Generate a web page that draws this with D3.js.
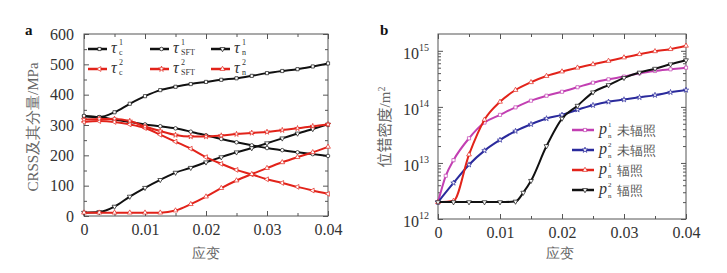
<!DOCTYPE html>
<html>
<head>
<meta charset="utf-8">
<script src="https://cdn.jsdelivr.net/npm/d3@7"></script>
<style>
  body { margin: 0; background: #fff; }
  text { font-family: "Liberation Serif", "DejaVu Serif", serif; }
</style>
</head>
<body>
<svg id="chart" width="727" height="273"></svg>
<script>
// ---- panel a data (strain vs CRSS, MPa) ----
var strainA = [0, 0.0025, 0.005, 0.0075, 0.01, 0.0125, 0.015, 0.0175, 0.02,
               0.0225, 0.025, 0.0275, 0.03, 0.0325, 0.035, 0.0375, 0.04];
var tauC1   = [329, 326, 342, 370, 395, 415, 426, 435, 442, 449, 454, 462, 471, 478, 484, 493, 503];
var tauSFT1 = [330, 326, 318, 310, 302, 296, 289, 278, 266, 254, 243, 233, 224, 217, 210, 204, 198];
var tauN1   = [11, 13, 31, 64, 93, 119, 143, 159, 177, 194, 210, 224, 240, 256, 272, 287, 302];
var tauC2   = [310, 313, 310, 302, 290, 268, 245, 222, 194, 172, 152, 137, 121, 109, 96, 84, 73];
var tauSFT2 = [318, 320, 320, 313, 295, 280, 267, 262, 262, 265, 270, 274, 277, 283, 289, 296, 302];
var tauN2   = [11, 11, 11, 11, 11, 11, 18, 39, 64, 92, 117, 138, 158, 177, 194, 210, 228];
var yTicksA = [0, 100, 200, 300, 400, 500, 600];
var xTicks  = [0, 0.01, 0.02, 0.03, 0.04];

// ---- panel b data (strain vs dislocation density, m^-2) ----
var strainP1 = [0, 0.00125, 0.0025, 0.005, 0.0075, 0.01, 0.0125, 0.015, 0.0175, 0.02,
                0.0225, 0.025, 0.0275, 0.03, 0.0325, 0.035, 0.0375, 0.04];
var rhoP1 = [2.0e12, 5.9e12, 1.12e13, 2.75e13, 5.25e13, 7.2e13, 9.8e13, 1.29e14, 1.58e14, 1.86e14,
             2.24e14, 2.7e14, 3.1e14, 3.47e14, 3.98e14, 4.37e14, 4.68e14, 5.0e14];
var strainP2 = strainA;
var rhoP2 = [2.0e12, 4.4e12, 9.3e12, 1.66e13, 2.57e13, 3.7e13, 4.9e13, 6.2e13, 7.2e13,
             8.9e13, 1.07e14, 1.23e14, 1.35e14, 1.48e14, 1.62e14, 1.82e14, 2.0e14];
var strainR1 = strainA;
var rhoR1 = [2.0e12, 2.1e12, 1.41e13, 5.9e13, 1.23e14, 2.0e14, 2.75e14, 3.55e14, 4.27e14,
             5.0e14, 5.75e14, 6.6e14, 7.6e14, 8.7e14, 9.8e14, 1.07e15, 1.23e15];
var strainR2 = [0, 0.0025, 0.005, 0.0075, 0.01, 0.0125, 0.01375, 0.015, 0.0175, 0.02,
                0.0225, 0.025, 0.0275, 0.03, 0.0325, 0.035, 0.0375, 0.04];
var rhoR2 = [2.0e12, 2.0e12, 2.0e12, 2.0e12, 2.0e12, 2.05e12, 2.95e12, 4.8e12, 2.0e13, 6.2e13,
             1.05e14, 1.82e14, 2.45e14, 3.3e14, 4.1e14, 4.8e14, 5.75e14, 6.8e14];
var yTicksB = [1e12, 1e13, 1e14, 1e15];

var RED = "#e2231a", BLACK = "#111", PINK = "#c23fb2", BLUE = "#2a2a9c";

var seriesA = [
  { ys: tauC1,   color: BLACK, sym: d3.symbolSquare,   rot: 0,   sup: "1", sub: "c" },
  { ys: tauSFT1, color: BLACK, sym: d3.symbolCircle,   rot: 0,   sup: "1", sub: "SFT" },
  { ys: tauN1,   color: BLACK, sym: d3.symbolTriangle, rot: 180, sup: "1", sub: "n" },
  { ys: tauC2,   color: RED,   sym: d3.symbolTriangle, rot: -90, sup: "2", sub: "c" },
  { ys: tauSFT2, color: RED,   sym: d3.symbolStar,     rot: 0,   sup: "2", sub: "SFT" },
  { ys: tauN2,   color: RED,   sym: d3.symbolTriangle, rot: 0,   sup: "2", sub: "n" }
];
var seriesB = [
  { xs: strainP1, ys: rhoP1, color: PINK,  sym: d3.symbolSquare,   rot: 0,   sup: "1", label: "未辐照" },
  { xs: strainP2, ys: rhoP2, color: BLUE,  sym: d3.symbolStar,     rot: 0,   sup: "2", label: "未辐照" },
  { xs: strainR1, ys: rhoR1, color: RED,   sym: d3.symbolTriangle, rot: 0,   sup: "1", label: "辐照" },
  { xs: strainR2, ys: rhoR2, color: BLACK, sym: d3.symbolTriangle, rot: 180, sup: "2", label: "辐照" }
];

var svg = d3.select("#chart");
svg.append("rect").attr("width", 727).attr("height", 273).attr("fill", "#fff");

function drawFrame(g, x, y, major, minorX, minorY, yLabels) {
  var x0 = x.range()[0], x1 = x.range()[1], y0 = y.range()[0], y1 = y.range()[1];
  var axisCol = "#555";
  g.append("g").attr("transform", "translate(0," + y0 + ")")
    .call(d3.axisBottom(x).tickValues(major.x).tickSize(-5).tickPadding(8)
      .tickFormat(function(d) { return d === 0 ? "0" : d3.format(".2f")(d); }));
  g.append("g").attr("transform", "translate(0," + y0 + ")")
    .call(d3.axisBottom(x).tickValues(minorX).tickSize(-3).tickFormat(""));
  g.append("g").attr("transform", "translate(0," + y1 + ")")
    .call(d3.axisTop(x).tickValues(major.x).tickSize(-5).tickFormat(""));
  g.append("g").attr("transform", "translate(0," + y1 + ")")
    .call(d3.axisTop(x).tickValues(minorX).tickSize(-3).tickFormat(""));
  var l = g.append("g").attr("transform", "translate(" + x0 + ",0)")
    .call(d3.axisLeft(y).tickValues(major.y).tickSize(-5).tickPadding(yLabels.pad).tickFormat(yLabels.fmt));
  g.append("g").attr("transform", "translate(" + x0 + ",0)")
    .call(d3.axisLeft(y).tickValues(minorY).tickSize(-3).tickFormat(""));
  g.append("g").attr("transform", "translate(" + x1 + ",0)")
    .call(d3.axisRight(y).tickValues(major.y).tickSize(-5).tickFormat(""));
  g.append("g").attr("transform", "translate(" + x1 + ",0)")
    .call(d3.axisRight(y).tickValues(minorY).tickSize(-3).tickFormat(""));
  g.selectAll(".domain").remove();
  g.selectAll(".tick line").attr("stroke", axisCol);
  g.selectAll(".tick text").attr("font-family", "Liberation Serif, serif")
    .attr("font-size", 16).attr("fill", "#333");
  g.append("rect").attr("x", x0).attr("y", y1).attr("width", x1 - x0).attr("height", y0 - y1)
    .attr("fill", "none").attr("stroke", axisCol).attr("stroke-width", 1);
  return l;
}

function drawSeries(g, x, y, s, xs) {
  var pts = s.ys.map(function(v, i) { return [xs[i], v]; });
  var line = d3.line().x(function(d) { return x(d[0]); }).y(function(d) { return y(d[1]); })
    .curve(d3.curveMonotoneX);
  g.append("path").datum(pts).attr("d", line).attr("fill", "none")
    .attr("stroke", s.color).attr("stroke-width", 2);
  g.selectAll(null).data(pts).enter().append("path")
    .attr("d", d3.symbol().type(s.sym).size(s.sym === d3.symbolStar ? 9 : 10))
    .attr("transform", function(d) { return "translate(" + x(d[0]) + "," + y(d[1]) + ") rotate(" + s.rot + ")"; })
    .attr("fill", "#fff").attr("stroke", s.color).attr("stroke-width", 0.7);
}

function legendMark(g, lx, ly, s, len) {
  g.append("line").attr("x1", lx).attr("x2", lx + len).attr("y1", ly).attr("y2", ly)
    .attr("stroke", s.color).attr("stroke-width", 2.5);
  g.append("path").attr("d", d3.symbol().type(s.sym).size(10))
    .attr("transform", "translate(" + (lx + len / 2 + 2) + "," + ly + ") rotate(" + s.rot + ")")
    .attr("fill", "#fff").attr("stroke", s.color).attr("stroke-width", 0.7);
}

// ================= panel a =================
var xa = d3.scaleLinear().domain([0, 0.04]).range([84, 328]);
var ya = d3.scaleLinear().domain([0, 600]).range([216, 34]);
var ga = svg.append("g");
drawFrame(ga, xa, ya, { x: xTicks, y: yTicksA },
  [0.005, 0.015, 0.025, 0.035], [50, 150, 250, 350, 450, 550],
  { pad: 10, fmt: d3.format("d") });
seriesA.forEach(function(s) { drawSeries(ga, xa, ya, s, strainA); });

// legend a: 2 rows x 3 cols
var legColA = [88, 150, 211], legRowA = [49, 69];
seriesA.forEach(function(s, i) {
  var lx = legColA[i % 3], ly = legRowA[Math.floor(i / 3)];
  legendMark(ga, lx, ly, s, 19);
  var tx = lx + 23;
  ga.append("text").attr("x", tx).attr("y", ly + 4).attr("font-size", 16)
    .attr("font-style", "italic").attr("fill", "#333").text("τ");
  ga.append("text").attr("x", tx + 8).attr("y", ly - 4).attr("font-size", 8)
    .attr("fill", "#333").text(s.sup);
  ga.append("text").attr("x", tx + 8).attr("y", ly + 6).attr("font-size", 8)
    .attr("fill", "#333").text(s.sub);
});

ga.append("text").attr("transform", "translate(38,127) rotate(-90)")
  .attr("text-anchor", "middle").attr("font-size", 15).attr("fill", "#666")
  .text("CRSS及其分量/MPa");
ga.append("text").attr("x", 206).attr("y", 258).attr("text-anchor", "middle")
  .attr("font-family", "Noto Sans CJK SC").attr("font-size", 14).attr("fill", "#666").text("应变");
ga.append("text").attr("x", 25).attr("y", 35).attr("font-family", "Liberation Sans, Arial, sans-serif")
  .attr("font-weight", "bold").attr("font-size", 15).attr("fill", "#111").text("a");

// ================= panel b =================
var xb = d3.scaleLinear().domain([0, 0.04]).range([438, 686]);
var yb = d3.scaleLog().domain([1e12, Math.pow(10, 15.3)]).range([219, 34]);
var gb = svg.append("g");
var minorB = [];
[1e12, 1e13, 1e14].forEach(function(dec) {
  [2, 3, 4, 5, 6, 7, 8, 9].forEach(function(m) { minorB.push(dec * m); });
});
var lb = drawFrame(gb, xb, yb, { x: xTicks, y: yTicksB },
  [0.005, 0.015, 0.025, 0.035], minorB,
  { pad: 17, fmt: function() { return "10"; } });
lb.selectAll(".tick text").attr("dy", "0.45em").each(function(d) {
  var t = d3.select(this);
  t.append("tspan").attr("dy", "-0.75em").attr("font-size", 10).text(Math.round(Math.log10(d)));
});
lb.selectAll(".tick text").attr("x", -9);
seriesB.forEach(function(s) { drawSeries(gb, xb, yb, s, s.xs); });

var legRowB = [130, 150, 170, 190];
seriesB.forEach(function(s, i) {
  var lx = 572, ly = legRowB[i];
  legendMark(gb, lx, ly, s, 22);
  var tx = lx + 27;
  gb.append("text").attr("x", tx).attr("y", ly + 4).attr("font-size", 16)
    .attr("font-style", "italic").attr("fill", "#333").text("p");
  gb.append("text").attr("x", tx + 9).attr("y", ly - 3).attr("font-size", 7)
    .attr("fill", "#333").text(s.sup);
  gb.append("text").attr("x", tx + 9).attr("y", ly + 8).attr("font-size", 7)
    .attr("fill", "#333").text("n");
  gb.append("text").attr("x", tx + 18).attr("y", ly + 5).attr("font-family", "Noto Sans CJK SC")
    .attr("font-size", 13).attr("fill", "#555").text(s.label);
});

var yl = gb.append("text").attr("transform", "translate(390,127) rotate(-90)")
  .attr("text-anchor", "middle").attr("font-size", 15).attr("fill", "#666");
yl.append("tspan").attr("font-family", "Noto Sans CJK SC").text("位错密度");
yl.append("tspan").text("/m");
yl.append("tspan").attr("dy", "-0.5em").attr("font-size", 10).text("2");
gb.append("text").attr("x", 560).attr("y", 258).attr("text-anchor", "middle")
  .attr("font-family", "Noto Sans CJK SC").attr("font-size", 14).attr("fill", "#666").text("应变");
gb.append("text").attr("x", 380).attr("y", 35).attr("font-family", "Liberation Sans, Arial, sans-serif")
  .attr("font-weight", "bold").attr("font-size", 15).attr("fill", "#111").text("b");
</script>
</body>
</html>
